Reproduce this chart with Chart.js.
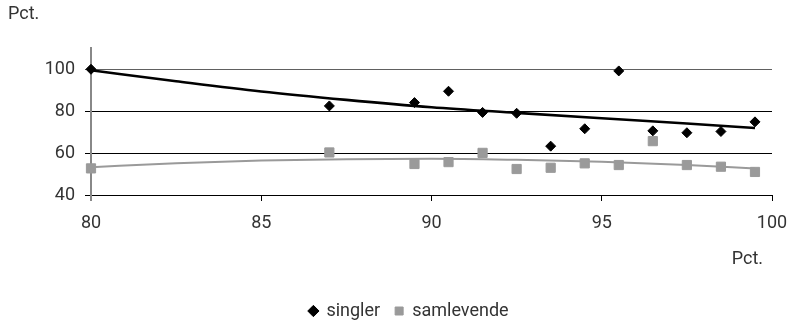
<!DOCTYPE html>
<html><head><meta charset="utf-8">
<script src="https://cdn.jsdelivr.net/npm/chart.js@4/dist/chart.umd.min.js"></script>
<style>html,body{margin:0;padding:0;background:#fff;overflow:hidden}#wrap{position:relative;width:791px;height:321px}</style>
</head><body><div id="wrap"><canvas id="c"></canvas></div>
<script>
const seriesNames = ['singler', 'samlevende'];
const xValues = [80, 87, 89.5, 90.5, 91.5, 92.5, 93.5, 94.5, 95.5, 96.5, 97.5, 98.5, 99.5];
const singlerValues = [100, 82.5, 84.1, 89.5, 79.4, 79.0, 63.3, 71.6, 99.2, 70.6, 69.7, 70.3, 74.9];
const samlevendeValues = [52.7, 60.3, 54.8, 55.7, 60.1, 52.4, 53.0, 55.1, 54.3, 65.7, 54.3, 53.5, 51.0];
const trendX = [80, 82.5, 85, 87.5, 90, 92.5, 95, 97.5, 99.5];
const singlerTrend = [99.5, 94.3, 89.4, 85.4, 81.9, 79.2, 76.6, 74.1, 72.0];
const samlevendeTrend = [53.3, 55.2, 56.5, 57.1, 57.3, 56.8, 55.9, 54.3, 52.7];
const xTickValues = [80, 85, 90, 95, 100];
const yTickValues = [40, 60, 80, 100];
const yAxisTitle = 'Pct.';
const xAxisTitle = 'Pct.  ';

const BLACK = '#000000';
const GREY = '#9a9a9a';
const TEXT = '#333333';

Chart.defaults.font.family = 'Roboto, "Open Sans", sans-serif';
Chart.defaults.font.size = 18;
Chart.defaults.color = TEXT;

const toPts = (xs, ys) => xs.map((x, i) => ({x: x, y: ys[i]}));

const legendShift = {
  id: 'legendShift',
  afterLayout(chart) {
    const lg = chart.legend;
    if (!lg) return;
    const dx = 19, dy = 9;
    lg.left += dx; lg.right += dx; lg.top += dy; lg.bottom += dy;
  }
};

new Chart(document.getElementById('c'), {
  type: 'scatter',
  data: {
    datasets: [
      {
        label: seriesNames[0],
        data: toPts(xValues, singlerValues),
        pointStyle: 'rectRot',
        pointRadius: 5,
        pointBackgroundColor: BLACK,
        pointBorderColor: BLACK,
        backgroundColor: BLACK,
        borderColor: BLACK,
        pointBorderWidth: 1,
        showLine: false,
        clip: false
      },
      {
        label: seriesNames[1],
        data: toPts(xValues, samlevendeValues),
        pointStyle: 'rect',
        pointRadius: 6.5,
        pointBackgroundColor: GREY,
        pointBorderColor: GREY,
        backgroundColor: GREY,
        borderColor: GREY,
        pointBorderWidth: 1,
        showLine: false,
        clip: false
      },
      {
        label: 'trend-singler',
        type: 'line',
        data: toPts(trendX, singlerTrend),
        borderColor: BLACK,
        borderWidth: 2.6,
        pointRadius: 0,
        cubicInterpolationMode: 'monotone',
        fill: false,
        clip: false
      },
      {
        label: 'trend-samlevende',
        type: 'line',
        data: toPts(trendX, samlevendeTrend),
        borderColor: GREY,
        borderWidth: 2,
        pointRadius: 0,
        cubicInterpolationMode: 'monotone',
        fill: false,
        clip: false
      }
    ]
  },
  options: {
    responsive: true,
    maintainAspectRatio: false,
    devicePixelRatio: 1,
    animation: false,
    layout: { padding: { left: 8, right: 19, top: 0, bottom: 0 } },
    plugins: {
      tooltip: { enabled: false },
      title: {
        display: true,
        text: yAxisTitle,
        align: 'start',
        position: 'top',
        color: TEXT,
        font: { size: 18, weight: 'normal' },
        padding: { top: 4, bottom: 22.7 }
      },
      legend: {
        position: 'bottom',
        align: 'center',
        labels: {
          usePointStyle: true,
          boxWidth: 8,
          boxHeight: 8,
          padding: 15,
          color: TEXT,
          font: { size: 18 },
          filter: (item) => seriesNames.includes(item.text)
        }
      }
    },
    scales: {
      x: {
        type: 'linear',
        min: 80,
        max: 100,
        afterBuildTicks: (s) => { s.ticks = xTickValues.map(v => ({value: v})); },
        afterFit: (s) => { s.height = 83; s.paddingLeft = 0; s.paddingRight = 0; },
        ticks: { padding: 12, color: TEXT, font: { size: 18 } },
        grid: {
          drawOnChartArea: false,
          drawTicks: true,
          tickLength: 6,
          color: (c) => (c.tick && c.tick.value === 80 ? '#888888' : BLACK),
          lineWidth: (c) => (c.tick && c.tick.value === 80 ? 2 : 1)
        },
        border: { display: true, color: BLACK, width: 1 },
        title: {
          display: true,
          text: xAxisTitle,
          align: 'end',
          color: TEXT,
          font: { size: 18 },
          padding: { top: 0, bottom: 8 }
        }
      },
      y: {
        type: 'linear',
        min: 40,
        max: 110,
        afterBuildTicks: (s) => { s.ticks = yTickValues.map(v => ({value: v})); },
        afterFit: (s) => { s.width = 83; s.paddingTop = 0; s.paddingBottom = 0; },
        ticks: { padding: 10, color: TEXT, font: { size: 18 } },
        grid: {
          drawOnChartArea: true,
          drawTicks: true,
          tickLength: 6,
          color: (c) => (c.tick && c.tick.value === 100 ? '#606060' : BLACK),
          lineWidth: 1
        },
        border: { display: true, color: '#888888', width: 2 }
      }
    }
  },
  plugins: [legendShift]
});
</script>
</body></html>
